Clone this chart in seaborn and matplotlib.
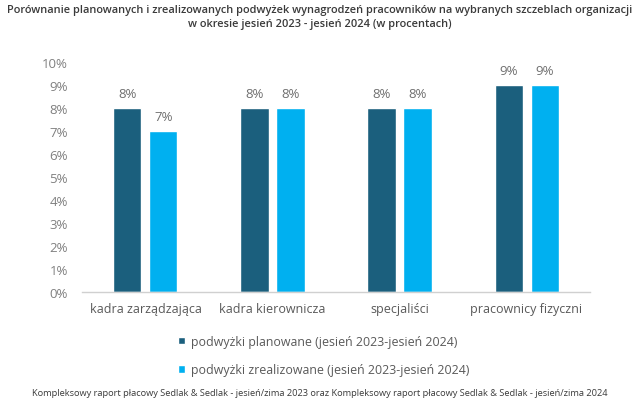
import matplotlib
matplotlib.use("Agg")
import matplotlib.pyplot as plt
import seaborn as sns
import pandas as pd
from matplotlib.ticker import FuncFormatter

categories = ["kadra zarządzająca", "kadra kierownicza", "specjaliści", "pracownicy fizyczni"]
planned = [8, 8, 8, 9]
realized = [7, 8, 8, 9]
series_names = ["podwyżki planowane (jesień 2023-jesień 2024)",
                "podwyżki zrealizowane (jesień 2023-jesień 2024)"]
colors = ["#1b5f7d", "#00b0f0"]
title = ("Porównanie planowanych i zrealizowanych podwyżek wynagrodzeń pracowników na wybranych szczeblach organizacji\n"
         "w okresie jesień 2023 - jesień 2024 (w procentach)")
footer = ("Kompleksowy raport płacowy Sedlak & Sedlak - jesień/zima 2023 oraz "
          "Kompleksowy raport płacowy Sedlak & Sedlak - jesień/zima 2024")

df = pd.DataFrame({
    "kategoria": categories * 2,
    "wartość": planned + realized,
    "seria": [series_names[0]] * len(categories) + [series_names[1]] * len(categories),
})

sns.set_theme(style="white")
plt.rcParams["font.family"] = ["Open Sans", "DejaVu Sans"]
grey = "#595959"

fig = plt.figure(figsize=(6.4, 4.06), dpi=100)
ax = fig.add_axes([0.128, 0.278, 0.794, 0.567])
sns.barplot(data=df, x="kategoria", y="wartość", hue="seria", palette=colors,
            width=0.567, gap=0.22, ax=ax, legend=True, saturation=1)

ax.set_ylim(0, 10)
ax.set_xlim(-0.5, 3.5)
ax.set_yticks(range(0, 11))
ax.yaxis.set_major_formatter(FuncFormatter(lambda v, p: f"{int(v)}%"))
ax.tick_params(axis="y", labelsize=9.5, length=0, pad=10)
ax.tick_params(axis="x", labelsize=9, length=0, pad=7)
for lab in ax.get_yticklabels():
    lab.set_color("#808080")
for lab in ax.get_xticklabels():
    lab.set_color(grey)
ax.set_xlabel("")
ax.set_ylabel("")
for s in ["top", "right", "left"]:
    ax.spines[s].set_visible(False)
ax.spines["bottom"].set_color("#d0d0d0")
ax.spines["bottom"].set_linewidth(1)

for c in ax.containers:
    ax.bar_label(c, fmt="%d%%", padding=6, fontsize=9.5, color="#707070")

handles, labels = ax.get_legend_handles_labels()
ax.get_legend().remove()
fig.legend(handles, labels, loc="upper left", bbox_to_anchor=(0.26, 0.2),
           frameon=False, fontsize=8.9, handlelength=0.6, handleheight=0.6,
           handletextpad=0.45, labelspacing=1.25, labelcolor=grey)

fig.text(0.5, 0.988, title, ha="center", va="top", fontsize=7.9,
         fontweight="semibold", color="#3a3a3a", linespacing=1.45)
fig.text(0.5, 0.032, footer, ha="center", va="center", fontsize=6.7, color="#3a3a3a")

fig.savefig("out.png", dpi=100)
